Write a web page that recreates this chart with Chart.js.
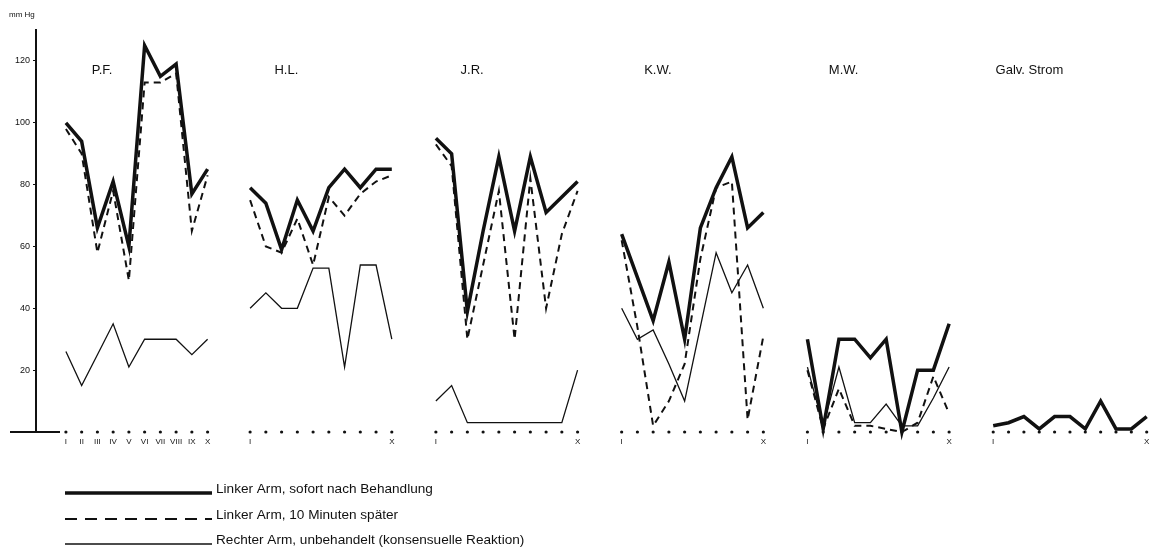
<!DOCTYPE html>
<html>
<head>
<meta charset="utf-8">
<script src="https://cdn.jsdelivr.net/npm/chart.js@4"></script>
<style>
  body { margin: 0; background: #fff; }
  canvas { display: block; }
</style>
</head>
<body>
<canvas id="myChart" width="1157" height="556"></canvas>
<script>
// patients / groups
const groupNames = ['P.F.', 'H.L.', 'J.R.', 'K.W.', 'M.W.', 'Galv. Strom'];
const romanLabels = ['I', 'II', 'III', 'IV', 'V', 'VI', 'VII', 'VIII', 'IX', 'X'];
const yTicks = [20, 40, 60, 80, 100, 120];

// Linker Arm, sofort nach Behandlung
const sofortValues = [
    [100, 94, 66, 81, 60, 125, 115, 119, 77, 85],
    [79, 74, 59, 75, 65, 79, 85, 79, 85, 85],
    [95, 90, 39, 65, 89, 65, 89, 71, 76, 81],
    [64, 50, 36, 55, 30, 66, 79, 89, 66, 71],
    [30, 1, 30, 30, 24, 30, 0, 20, 20, 35],
    [2, 3, 5, 1, 5, 5, 1, 10, 1, 1, 5]
];
// Linker Arm, 10 Minuten spaeter
const spaeterValues = [
    [98, 90, 58, 78, 49, 113, 113, 116, 65, 83],
    [75, 60, 58, 69, 54, 76, 70, 77, 81, 83],
    [93, 86, 30, 54, 78, 30, 82, 40, 64, 78],
    [62, 34, 2, 10, 22, 56, 79, 81, 4, 31],
    [20, 1, 14, 2, 2, 1, 0, 3, 18, 6],
    []
];
// Rechter Arm, unbehandelt
const rechtsValues = [
    [26, 15, 25, 35, 21, 30, 30, 30, 25, 30],
    [40, 45, 40, 40, 53, 53, 21, 54, 54, 30],
    [10, 15, 3, 3, 3, 3, 3, 3, 3, 20],
    [40, 30, 33, 22, 10, 34, 58, 45, 54, 40],
    [21, 2, 21, 3, 3, 9, 2, 2, 11, 21],
    []
];
const legendLabels = [
    'Linker Arm, sofort nach Behandlung',
    'Linker Arm, 10 Minuten später',
    'Rechter Arm, unbehandelt (konsensuelle Reaktion)'
];

// where each group starts on the x scale
const groupStart = [0, 11.7, 23.5, 35.3, 47.1, 58.9];
function stepOf(g) { return g === 5 ? 0.975 : 1; }

function toPoints(series) {
    const pts = [];
    series.forEach(function (vals, g) {
        vals.forEach(function (v, i) {
            pts.push({ x: groupStart[g] + i * stepOf(g), y: v });
        });
        pts.push({ x: groupStart[g] + 10.5, y: null });
    });
    return pts;
}

const dotPoints = [];
sofortValues.forEach(function (vals, g) {
    vals.forEach(function (v, i) {
        dotPoints.push({ x: groupStart[g] + i * stepOf(g), y: 0 });
    });
});

const INK = '#111';
const FONT = '"Liberation Sans", Arial, sans-serif';

const extrasPlugin = {
    id: 'extras',
    afterDraw(chart) {
        const ctx = chart.ctx;
        const xs = chart.scales.x;
        const ys = chart.scales.y;
        ctx.save();
        ctx.fillStyle = INK;
        ctx.strokeStyle = INK;

        // unit label
        ctx.font = '8px ' + FONT;
        ctx.textAlign = 'left';
        ctx.textBaseline = 'middle';
        ctx.fillText('mm Hg', 9, 15);

        // short baseline
        ctx.lineWidth = 2;
        ctx.beginPath();
        ctx.moveTo(10, ys.getPixelForValue(0));
        ctx.lineTo(60, ys.getPixelForValue(0));
        ctx.stroke();

        // group titles
        ctx.font = '13px ' + FONT;
        ctx.textAlign = 'center';
        groupNames.forEach(function (name, g) {
            ctx.fillText(name, xs.getPixelForValue(groupStart[g] + 2.3), ys.getPixelForValue(117));
        });

        // roman labels under the dots
        ctx.font = '8px ' + FONT;
        const yl = ys.getPixelForValue(0) + 10;
        sofortValues.forEach(function (vals, g) {
            const last = vals.length - 1;
            if (g === 0) {
                romanLabels.forEach(function (r, i) {
                    ctx.fillText(r, xs.getPixelForValue(groupStart[g] + i), yl);
                });
            } else {
                ctx.fillText('I', xs.getPixelForValue(groupStart[g]), yl);
                ctx.fillText('X', xs.getPixelForValue(groupStart[g] + last * stepOf(g)), yl);
            }
        });

        // legend
        const styles = [
            { w: 3.5, dash: [] },
            { w: 2, dash: [12, 8] },
            { w: 1.3, dash: [] }
        ];
        const legY = [489, 515, 540];
        ctx.font = '13.6px ' + FONT;
        ctx.textAlign = 'left';
        legendLabels.forEach(function (txt, k) {
            ctx.lineWidth = styles[k].w;
            ctx.setLineDash(styles[k].dash);
            ctx.beginPath();
            ctx.moveTo(65, legY[k] + 4);
            ctx.lineTo(212, legY[k] + 4);
            ctx.stroke();
            ctx.setLineDash([]);
            ctx.fillText(txt, 216, legY[k]);
        });
        ctx.restore();
    }
};

const ctx = document.getElementById('myChart').getContext('2d');
const chart = new Chart(ctx, {
    type: 'line',
    data: {
        datasets: [
            {
                label: legendLabels[0],
                data: toPoints(sofortValues),
                borderColor: INK,
                borderWidth: 3.5,
                pointRadius: 0,
                tension: 0,
                spanGaps: false
            },
            {
                label: legendLabels[1],
                data: toPoints(spaeterValues),
                borderColor: INK,
                borderWidth: 2,
                borderDash: [7, 5],
                pointRadius: 0,
                tension: 0,
                spanGaps: false
            },
            {
                label: legendLabels[2],
                data: toPoints(rechtsValues),
                borderColor: INK,
                borderWidth: 1.3,
                pointRadius: 0,
                tension: 0,
                spanGaps: false
            },
            {
                label: 'dots',
                data: dotPoints,
                showLine: false,
                pointRadius: 1.6,
                pointBackgroundColor: INK,
                pointBorderWidth: 0
            }
        ]
    },
    options: {
        responsive: false,
        animation: false,
        devicePixelRatio: 1,
        clip: false,
        layout: { padding: { left: 10, top: 30, bottom: 124, right: 0 } },
        plugins: {
            legend: { display: false },
            tooltip: { enabled: false }
        },
        scales: {
            x: {
                type: 'linear',
                min: -1.9,
                max: 69.05,
                display: false
            },
            y: {
                min: 0,
                max: 130,
                afterBuildTicks: function (scale) {
                    scale.ticks = yTicks.map(function (v) { return { value: v }; });
                },
                afterFit: function (scale) { scale.width = 26; },
                border: { display: true, color: INK, width: 2 },
                grid: { drawOnChartArea: false, drawTicks: true, tickLength: 3, color: INK },
                ticks: {
                    color: INK,
                    padding: 3,
                    font: { size: 9, family: FONT }
                }
            }
        }
    },
    plugins: [extrasPlugin]
});
</script>
</body>
</html>
